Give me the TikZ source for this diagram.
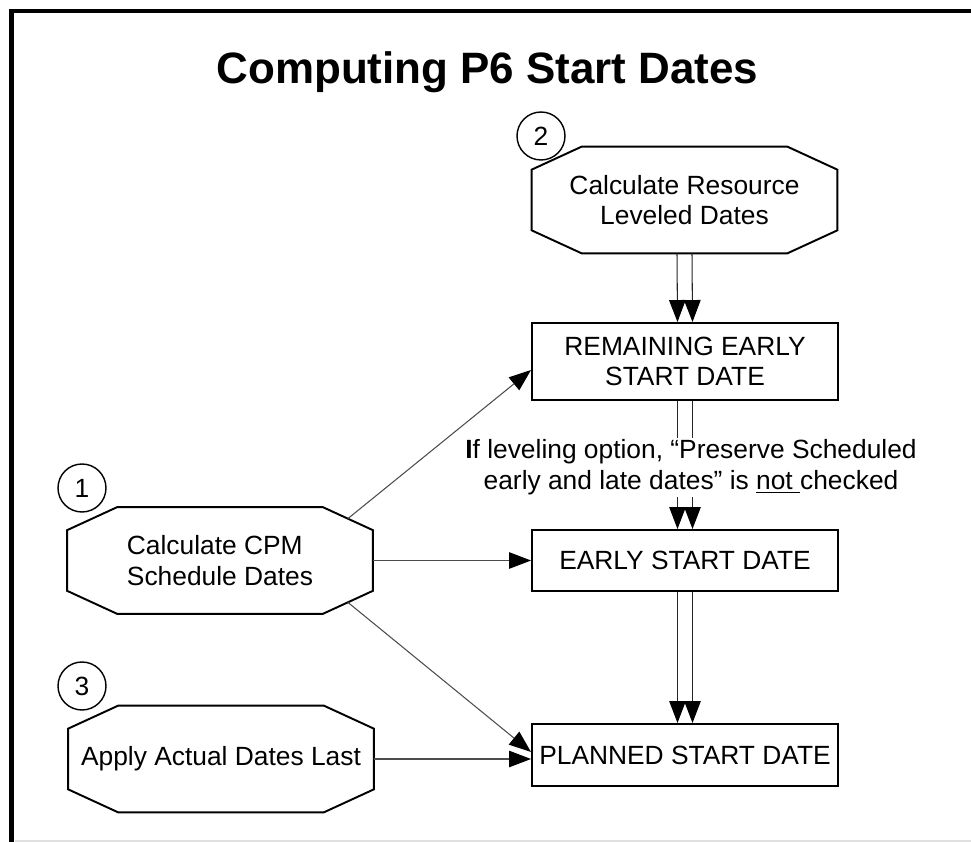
\documentclass[tikz,border=0pt]{standalone}
\usepackage{fontspec}
\setmainfont{Liberation Sans}
\usetikzlibrary{arrows.meta}

\begin{document}
\begin{tikzpicture}[>={Triangle[length=0.44cm,width=0.33cm,color=black]}, font=\fontsize{15}{17.5}\selectfont]
    \tikzstyle{calc step}=[minimum width=6.1cm, minimum height=2.12cm, inner sep=0pt, align=center]
    \tikzstyle{date box}=[draw, line width=1.1pt, minimum width=6.12cm, inner sep=2pt, align=center]
    \tikzstyle{step number}=[circle, draw, line width=0.8pt, minimum size=0.96cm, inner sep=0pt]
    \tikzstyle{feed}=[->, draw=black!70, line width=0.6pt]
    \tikzstyle{double feed}=[->, draw=black!85, line width=0.6pt]

    % Frame and title
    \useasboundingbox (0,0) rectangle (19.42,-16.84);
    \draw[line width=2.3pt] (0.23,-16.84) -- (0.23,-0.22) -- (19.42,-0.22);
    \draw[black!12, line width=0.6pt] (0.3,-16.82) -- (19.42,-16.82);
    \node (title) at (9.75,-1.44) {\fontsize{25}{30}\selectfont\bfseries Computing P6 Start Dates};

    % Draw the calculation steps
    \node[calc step] (level) at (13.69,-4.0) {Calculate Resource\\Leveled Dates};
    \node[calc step, align=left] (cpm) at (4.4,-11.21) {Calculate CPM\\Schedule Dates};
    \node[calc step] (actual) at (4.42,-15.18) {Apply Actual Dates Last};
    \foreach \n in {level,cpm,actual}
        \draw[line width=1.1pt] ([xshift=1cm]\n.north west) -- ([xshift=-1cm]\n.north east)
            -- ([yshift=-0.46cm]\n.north east) -- ([yshift=0.46cm]\n.south east)
            -- ([xshift=-1cm]\n.south east) -- ([xshift=1cm]\n.south west)
            -- ([yshift=0.46cm]\n.south west) -- ([yshift=-0.46cm]\n.north west) -- cycle;
    \coordinate (cpm-ne) at ([xshift=-0.5cm,yshift=-0.23cm]cpm.north east);
    \coordinate (cpm-se) at ([xshift=-0.5cm,yshift=0.23cm]cpm.south east);

    % Number the steps
    \node[step number] (n-2) at (10.82,-2.72) {2};
    \node[step number] (n-1) at (1.64,-9.76) {1};
    \node[step number] (n-3) at (1.64,-13.72) {3};

    % Draw the date boxes
    \node[date box, minimum height=1.54cm] (remain) at (13.7,-7.23) {REMAINING EARLY\\START DATE};
    \node[date box, minimum height=1.22cm] (early) at (13.7,-11.21) {EARLY START DATE};
    \node[date box, minimum height=1.24cm] (planned) at (13.7,-15.1) {PLANNED START DATE};

    % Double connectors down the date column
    \foreach \dx in {-0.15,0.15} {
        \draw[double feed] ([xshift=\dx cm]level.south) -- ([xshift=\dx cm]remain.north);
        \draw[double feed] ([xshift=\dx cm]remain.south) -- ([xshift=\dx cm]early.north);
        \draw[double feed] ([xshift=\dx cm]early.south) -- ([xshift=\dx cm]planned.north);
    }

    % Condition on the leveling option
    \node[fill=white, inner sep=1pt, align=center] (cond) at (13.82,-9.35)
        {\textbf{I}f leveling option, “Preserve Scheduled\\early and late dates” is \underline{not\ }checked};

    % Connect the CPM and actual steps with the date boxes
    \draw[feed] (cpm-ne) -- ([yshift=-0.17cm]remain.west);
    \draw[feed] (cpm.east) -- (early.west);
    \draw[feed] (cpm-se) -- ([yshift=0.06cm]planned.west);
    \draw[feed] (actual.east) -- (actual.east -| planned.west);
\end{tikzpicture}
\end{document}
